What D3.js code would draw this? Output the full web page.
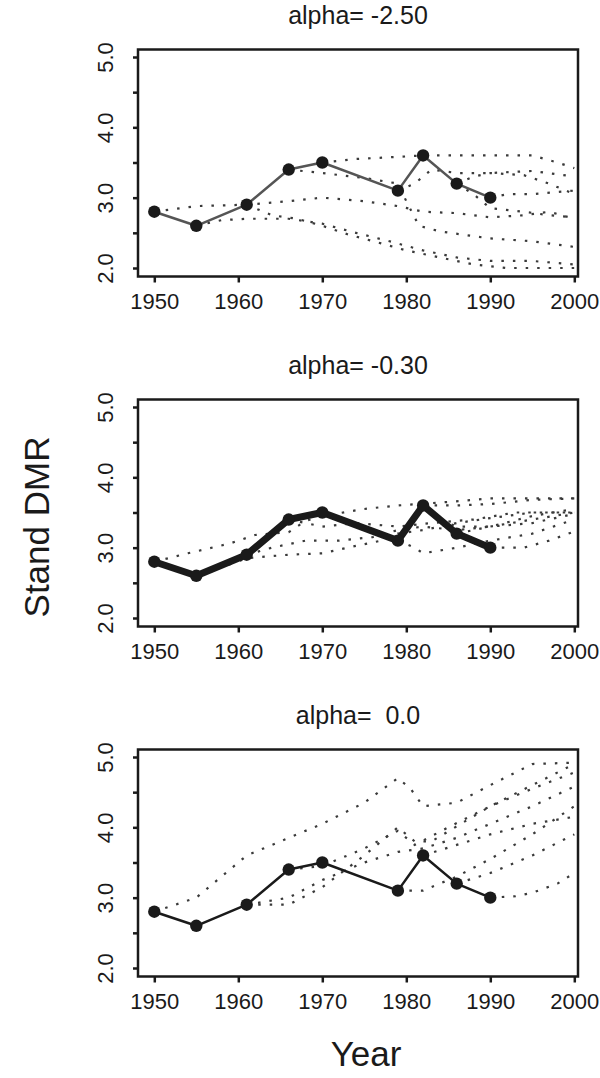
<!DOCTYPE html>
<html>
<head>
<meta charset="utf-8">
<script src="https://cdn.jsdelivr.net/npm/d3@7"></script>
<style>
  body { margin: 0; background: #fff; }
  svg { font-family: "Liberation Sans", Arial, sans-serif; }
</style>
</head>
<body>
<svg id="chart" width="600" height="1078"></svg>
<script>
// observed series (same in every panel)
const years = [1950, 1955, 1961, 1966, 1970, 1979, 1982, 1986, 1990];
const dmr = [2.8, 2.6, 2.9, 3.4, 3.5, 3.1, 3.6, 3.2, 3.0];

const alphaLabels = ["alpha= -2.50", "alpha= -0.30", "alpha=  0.0"];
const xTicks = [1950, 1960, 1970, 1980, 1990, 2000];
const yTicks = [2, 2.5, 3, 3.5, 4, 4.5, 5];

// dotted projection paths: [year, value]
const projA = [
  [[1950,2.8],[1955,2.88],[1961,2.9],[1966,2.95],[1970,3.0],[1975,2.95],[1979,2.88],[1982,2.8],[1986,2.78],[1990,2.72],[1994,2.75],[1997,2.8],[2000,2.7]],
  [[1955,2.6],[1958,2.68],[1961,2.7],[1966,2.7],[1970,2.63],[1974,2.5],[1978,2.38],[1982,2.25],[1986,2.15],[1990,2.1],[1995,2.1],[2000,2.05]],
  [[1961,2.9],[1964,2.75],[1967,2.7],[1970,2.6],[1973,2.48],[1977,2.35],[1980,2.25],[1984,2.15],[1988,2.05],[1992,2.0],[2000,2.0]],
  [[1966,3.4],[1970,3.35],[1975,3.28],[1979,3.2],[1980,2.95],[1981.5,2.6],[1984,2.52],[1990,2.42],[1995,2.38],[2000,2.3]],
  [[1970,3.5],[1974,3.55],[1979,3.58],[1982,3.6],[1986,3.6],[1990,3.6],[1995,3.6],[1998,3.5],[2000,3.42]],
  [[1979,3.1],[1981,3.2],[1983,3.4],[1986,3.35],[1990,3.35],[1995,3.38],[2000,3.3]],
  [[1986,3.2],[1988,3.3],[1990,3.35],[1994,3.32],[1997,3.2],[2000,3.05]],
  [[1990,3.0],[1992,3.05],[1995,3.05],[2000,3.1]],
  [[1986,3.2],[1988,3.05],[1990,2.85],[1994,2.8],[1997,2.75],[2000,2.72]]
];
const projB = [
  [[1950,2.8],[1954,2.92],[1959,3.06],[1962,3.18],[1966,3.22],[1968,3.38],[1970,3.45],[1975,3.55],[1979,3.6],[1985,3.65],[1990,3.7],[2000,3.7]],
  [[1955,2.6],[1958,2.72],[1961,2.85],[1966,2.9],[1970,2.92],[1973,3.0],[1977,3.1],[1979,3.2],[1982,3.25],[1986,3.35],[1990,3.42],[1995,3.5],[2000,3.5]],
  [[1961,2.9],[1964,3.0],[1968,3.1],[1972,3.1],[1976,3.15],[1979,3.25],[1982,3.3],[1986,3.25],[1990,3.3],[1995,3.45],[2000,3.55]],
  [[1966,3.4],[1970,3.3],[1974,3.35],[1979,3.3],[1983,3.35],[1988,3.4],[1993,3.5],[2000,3.5]],
  [[1979,3.1],[1981,3.0],[1982,2.92],[1986,3.0],[1990,3.1],[1995,3.2],[2000,3.4]],
  [[1982,3.6],[1986,3.6],[1990,3.62],[1995,3.68],[2000,3.7]],
  [[1986,3.2],[1990,3.3],[1995,3.4],[2000,3.5]],
  [[1990,3.0],[1994,3.0],[1997,3.1],[2000,3.23]],
  [[1982,3.6],[1984,3.4],[1986,3.3],[1990,3.3],[1995,3.35],[2000,3.48]]
];
const projC = [
  [[1950,2.8],[1955,3.0],[1958,3.3],[1961,3.6],[1966,3.85],[1970,4.05],[1975,4.35],[1979,4.7],[1980.5,4.55],[1982,4.3],[1986,4.35],[1990,4.6],[1995,4.9],[2000,4.92]],
  [[1961,2.9],[1966,2.9],[1970,3.15],[1975,3.6],[1979,4.0],[1981,3.8],[1983,3.8],[1990,4.3],[1995,4.6],[2000,4.9]],
  [[1966,3.4],[1970,3.45],[1975,3.7],[1979,3.95],[1981,3.75],[1985,4.0],[1990,4.3],[1995,4.55],[2000,4.78]],
  [[1961,2.9],[1966,3.0],[1970,3.25],[1975,3.5],[1979,3.65],[1982,3.7],[1986,3.85],[1990,4.05],[1995,4.3],[2000,4.58]],
  [[1979,3.1],[1982,3.1],[1986,3.3],[1990,3.55],[1995,3.9],[2000,4.3]],
  [[1982,3.6],[1986,3.75],[1990,3.9],[1995,4.05],[2000,4.15]],
  [[1986,3.2],[1990,3.35],[1995,3.6],[2000,3.9]],
  [[1990,3.0],[1993,3.02],[1995,3.07],[1998,3.2],[2000,3.35]]
];
const projections = [projA, projB, projC];
const mainColors = ["#555555", "#1a1a1a", "#1a1a1a"];
const mainWidths = [2.5, 7, 2.5];

const svg = d3.select("#chart");

const x = d3.scaleLinear().domain([1950, 2000]).range([154.3, 574.3]);
const y = d3.scaleLinear().domain([2, 5]).range([268, 57]);
const line = d3.line().x(d => x(d[0])).y(d => y(d[1]));
const obs = years.map((yr, i) => [yr, dmr[i]]);

alphaLabels.forEach((lab, p) => {
  const g = svg.append("g").attr("transform", `translate(0,${p * 350})`);

  // title
  g.append("text")
    .attr("x", 358).attr("y", 24)
    .attr("text-anchor", "middle")
    .attr("font-size", 25)
    .style("white-space", "pre")
    .attr("fill", "#1a1a1a")
    .text(lab);

  // dotted projections
  g.selectAll(".proj")
    .data(projections[p])
    .enter().append("path")
    .attr("class", "proj")
    .attr("d", line)
    .attr("fill", "none")
    .attr("stroke", "#3a3a3a")
    .attr("stroke-width", 2.2)
    .attr("stroke-dasharray", "2.5,9");

  // observed line + points
  g.append("path")
    .attr("d", line(obs))
    .attr("fill", "none")
    .attr("stroke", mainColors[p])
    .attr("stroke-width", mainWidths[p])
    .attr("stroke-linejoin", "round");

  g.selectAll(".pt")
    .data(obs)
    .enter().append("circle")
    .attr("class", "pt")
    .attr("cx", d => x(d[0]))
    .attr("cy", d => y(d[1]))
    .attr("r", 6.2)
    .attr("fill", "#1a1a1a");

  // frame
  g.append("rect")
    .attr("x", 138).attr("y", 49.5)
    .attr("width", 440).attr("height", 227)
    .attr("fill", "none")
    .attr("stroke", "#1a1a1a")
    .attr("stroke-width", 2.5);

  // y axis (ticks every 0.5, labels on whole numbers)
  const yAxis = g.append("g")
    .attr("transform", "translate(138,0)")
    .call(d3.axisLeft(y).tickValues(yTicks).tickSize(5).tickFormat(d => Number.isInteger(d) ? d.toFixed(1) : ""));
  yAxis.select(".domain").remove();
  yAxis.selectAll("line").attr("stroke", "#1a1a1a").attr("stroke-width", 2.5);
  yAxis.selectAll("text")
    .attr("font-size", 22)
    .attr("fill", "#1a1a1a")
    .attr("text-anchor", "middle")
    .attr("dy", null)
    .attr("x", null)
    .attr("transform", "translate(-33,0) rotate(-90)")
    .attr("dominant-baseline", "central");

  // x axis
  const xAxis = g.append("g")
    .attr("transform", "translate(0,276.5)")
    .call(d3.axisBottom(x).tickValues(xTicks).tickSize(6).tickPadding(11).tickFormat(d3.format("d")));
  xAxis.select(".domain").remove();
  xAxis.selectAll("line").attr("stroke", "#1a1a1a").attr("stroke-width", 2.5);
  xAxis.selectAll("text").attr("font-size", 22).attr("fill", "#1a1a1a");
});

svg.append("text")
  .attr("transform", "translate(36,527) rotate(-90)")
  .attr("text-anchor", "middle")
  .attr("dominant-baseline", "central")
  .attr("font-size", 35)
  .attr("fill", "#1a1a1a")
  .text("Stand DMR");

svg.append("text")
  .attr("x", 366).attr("y", 1066)
  .attr("text-anchor", "middle")
  .attr("font-size", 35)
  .attr("fill", "#1a1a1a")
  .text("Year");
</script>
</body>
</html>
